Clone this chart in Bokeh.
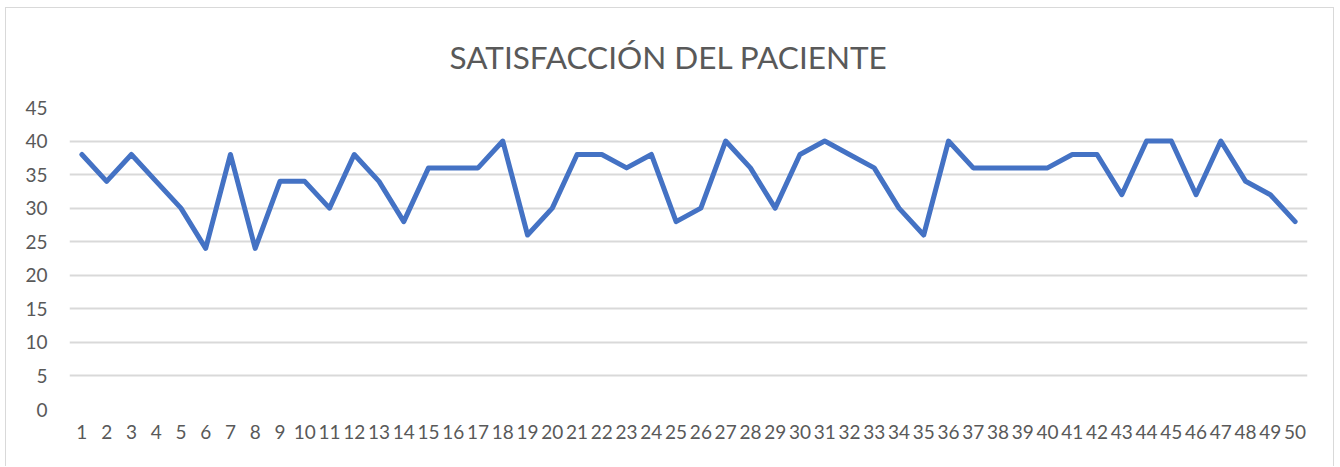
from bokeh.plotting import figure
from bokeh.models import Range1d, FixedTicker
from bokeh.embed import file_html
from bokeh.resources import INLINE

# ---- data ----
title_text = "SATISFACCIÓN DEL PACIENTE"
patients = list(range(1, 51))
x_labels = [str(i) for i in patients]
satisfaction = [38, 34, 38, 34, 30, 24, 38, 24, 34, 34,
                30, 38, 34, 28, 36, 36, 36, 40, 26, 30,
                38, 38, 36, 38, 28, 30, 40, 36, 30, 38,
                40, 38, 36, 30, 26, 40, 36, 36, 36, 36,
                38, 38, 32, 40, 40, 32, 40, 34, 32, 28]
y_ticks = [0, 5, 10, 15, 20, 25, 30, 35, 40, 45]

FONT = "Lato"
TXT = "#595959"
GRID = "#d9d9d9"

p = figure(width=1329, height=459, output_backend="svg", toolbar_location=None,
           x_range=Range1d(0.5, 50.5), y_range=Range1d(0, 45),
           min_border_left=63, min_border_right=28, min_border_top=99, min_border_bottom=58,
           title=title_text)
p.styles = {"margin-left": "5px", "margin-top": "7px",
            "border-left": "1px solid #d9d9d9", "border-top": "1px solid #d9d9d9",
            "border-right": "1px solid #d9d9d9"}
p.background_fill_color = "white"
p.border_fill_color = "white"
p.outline_line_color = None

p.title.align = "left"
p.title.offset = 380
p.title.vertical_align = "top"
p.title.standoff = 59
p.title.text_font = FONT
p.title.text_font_size = "31.5px"
p.title.text_font_style = "normal"
p.title.text_color = TXT

p.line(patients, satisfaction, line_color="#4472C4", line_width=5,
       line_join="round", line_cap="round")

# axes
p.xaxis.ticker = FixedTicker(ticks=patients)
p.xaxis.major_label_overrides = {i: s for i, s in zip(patients, x_labels)}
p.yaxis.ticker = FixedTicker(ticks=y_ticks)
for ax in (p.xaxis[0], p.yaxis[0]):
    ax.axis_line_color = None
    ax.major_tick_line_color = None
    ax.minor_tick_line_color = None
    ax.major_tick_out = 0
    ax.major_tick_in = 0
    ax.major_label_text_font = FONT
    ax.major_label_text_font_size = "19px"
    ax.major_label_text_color = TXT
p.yaxis.major_label_standoff = 22
p.xaxis.major_label_standoff = 15

p.xgrid.grid_line_color = None
p.ygrid.ticker = FixedTicker(ticks=y_ticks)
p.ygrid.grid_line_color = GRID
p.ygrid.grid_line_width = 2

open("out.html", "w").write(file_html(p, INLINE))
